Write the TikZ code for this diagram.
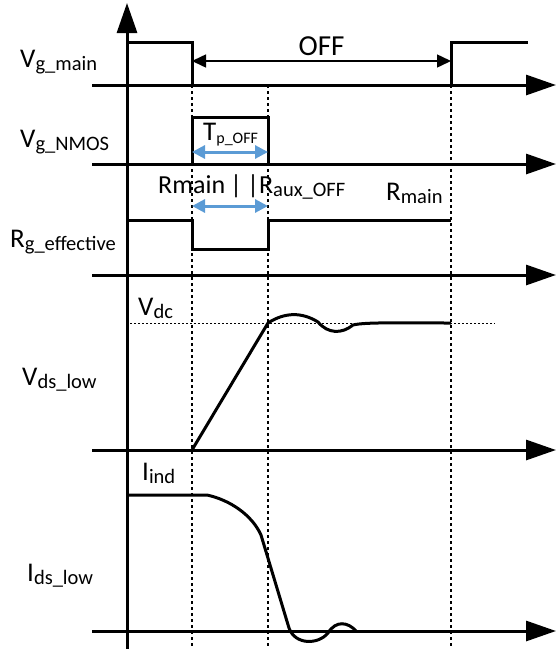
\documentclass[tikz,border=0pt]{standalone}
\usepackage{fontspec}
\setmainfont{Carlito}
\usetikzlibrary{arrows.meta}
\definecolor{arrblue}{RGB}{91,155,213}
\newcommand{\lbl}[2]{#1\raisebox{-3.5pt}{\fontsize{20.5}{20.5}\selectfont #2}}
\newcommand{\lbs}[2]{#1\raisebox{-3pt}{\fontsize{16}{16}\selectfont #2}}
\tikzset{
  axis/.style={line width=3pt,-{Triangle[length=30pt,width=20pt]}},
  sig/.style={line width=3pt,line join=miter},
  guide/.style={line width=1.5pt,dash pattern=on 3pt off 3pt},
  level/.style={line width=1pt,dash pattern=on 2pt off 2pt},
  span/.style={line width=3pt,arrblue,{Triangle[length=13pt,width=13pt]}-{Triangle[length=13pt,width=13pt]}},
  txt/.style={inner sep=0pt,anchor=base west}
}
\begin{document}
\begin{tikzpicture}[x=1pt,y=-1pt,font=\fontsize{27}{27}\selectfont]
\useasboundingbox (0,0) rectangle (556,649);
\draw[axis] (127,649) -- (127,3);
\foreach \y in {85,164,275,450,631} \draw[axis] (92,\y) -- (556,\y);
\foreach \x in {192,268,451} \draw[guide] (\x,85) -- (\x,649);
\draw[sig] (127,42) -- (192,42) -- (192,85);
\draw[sig] (451,85) -- (451,42) -- (528,42);
\draw[line width=1.5pt,{Triangle[length=14pt,width=13pt]}-{Triangle[length=14pt,width=13pt]}] (192,61) -- (451,61) node[midway,above=1pt,font=\fontsize{29}{29}\selectfont] (off) {OFF};
\draw[sig] (192,164) -- (192,117) -- (268,117) -- (268,164);
\draw[span] (192,152) -- (268,152);
\draw[sig] (127,220) -- (192,220) -- (192,249) -- (268,249) -- (268,220) -- (451,220);
\draw[span] (192,206) -- (268,206);
\draw[level] (130,323) -- (495,323);
\draw[sig] (192,450) -- (268,323) .. controls (285,312) and (302,312) .. (318,322)
  .. controls (328,334) and (342,334) .. (353,325) .. controls (365,322) and (400,323) .. (451,323);
\draw[sig] (127,495) -- (207,495) .. controls (230,500) and (252,515) .. (261,535) -- (289,628)
  .. controls (295,645) and (318,645) .. (328,633) .. controls (336,620) and (348,622) .. (356,631);
\node[txt] (vgmain) at (20,67) {\lbl{V}{g\_main}};
\node[txt] (vgnmos) at (20,147) {\lbl{V}{g\_NMOS}};
\node[txt] (rgeff) at (10,247) {\lbl{R}{g\_effective}};
\node[txt] (vdslow) at (22,385) {\lbl{V}{ds\_low}};
\node[txt] (idslow) at (27,581) {\lbl{I}{ds\_low}};
\node[txt] (vdc) at (138,315) {\lbl{V}{dc}};
\node[txt] (iind) at (142,480) {\lbl{I}{ind}};
\node[txt] (tpoff) at (203,140) {\lbs{T}{p\_OFF}};
\node[txt,font=\fontsize{26}{26}\selectfont] (rpar) at (158,193) {Rmain\hspace{5pt}|\hspace{5pt}|\lbl{R}{aux\_OFF}};
\node[txt] (rmain) at (386,200) {\lbl{R}{main}};
\end{tikzpicture}
\end{document}
